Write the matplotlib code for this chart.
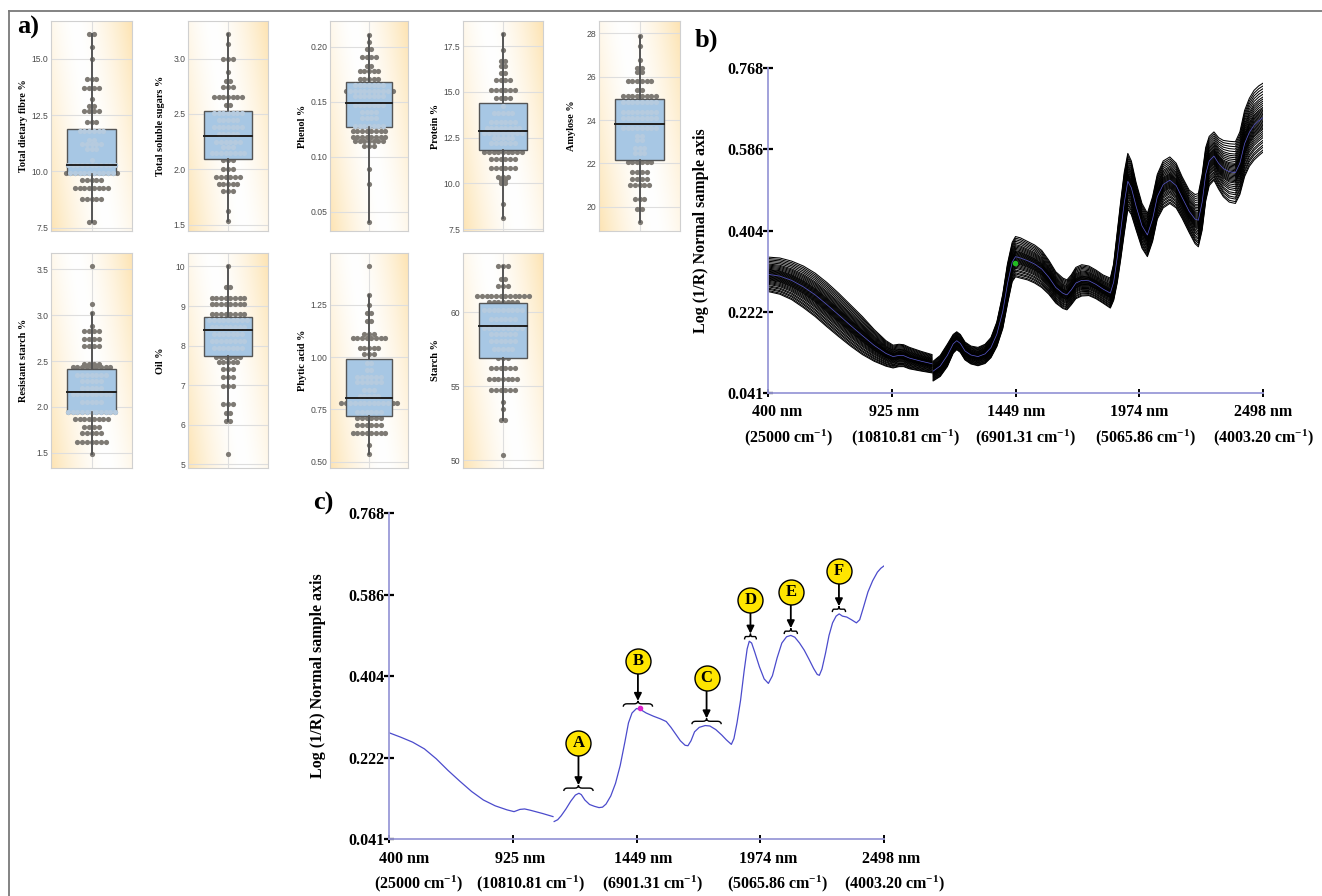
import numpy as np
import matplotlib
matplotlib.use("Agg")
import matplotlib.pyplot as plt
from matplotlib.path import Path
from matplotlib.patches import PathPatch
from matplotlib.lines import Line2D
import matplotlib.transforms as mtransforms

plt.rcParams['mathtext.fontset'] = 'custom'
plt.rcParams['mathtext.rm'] = 'Liberation Serif:bold'
plt.rcParams['mathtext.bf'] = 'Liberation Serif:bold'
plt.rcParams['mathtext.it'] = 'Liberation Serif:bold'
SERIF = 'Liberation Serif'
SANS = 'Liberation Sans'

# ---------------- panel a data (dot levels and counts, box stats) ----------------
tdf_levels = [16.1, 15.5, 15.0, 14.1, 13.7, 13.2, 12.9, 12.7, 12.2, 11.8, 11.4, 11.2, 11.0, 10.5, 10.3, 9.95, 9.6, 9.25, 8.8, 7.75]
tdf_counts = [2, 1, 1, 3, 4, 1, 2, 4, 3, 6, 2, 5, 3, 1, 11, 12, 5, 8, 5, 2]
tdf_box = [7.75, 9.89, 10.29, 11.87, 16.1]

tss_levels = [3.22, 3.13, 3.0, 2.88, 2.80, 2.74, 2.65, 2.58, 2.51, 2.45, 2.38, 2.32, 2.25, 2.20, 2.15, 2.08, 2.0, 1.93, 1.87, 1.80, 1.62, 1.53]
tss_counts = [1, 1, 3, 1, 2, 3, 7, 2, 7, 5, 7, 5, 6, 3, 8, 3, 3, 6, 5, 3, 1, 1]
tss_box = [1.53, 2.09, 2.30, 2.53, 3.22]

phe_levels = [0.211, 0.204, 0.198, 0.191, 0.182, 0.178, 0.171, 0.165, 0.160, 0.155, 0.147, 0.141, 0.135, 0.128, 0.123, 0.118, 0.114, 0.110, 0.089, 0.075, 0.041]
phe_counts = [1, 1, 2, 4, 2, 5, 5, 7, 11, 7, 7, 4, 4, 7, 8, 8, 7, 3, 1, 1, 1]
phe_box = [0.041, 0.127, 0.149, 0.168, 0.211]

pro_levels = [18.18, 17.32, 16.67, 16.42, 16.03, 15.68, 15.13, 14.69, 14.21, 13.85, 13.35, 13.04, 12.75, 12.46, 12.19, 11.74, 11.33, 10.85, 10.36, 10.2, 10.0, 8.9, 8.1]
pro_counts = [1, 1, 2, 2, 2, 4, 6, 4, 1, 5, 6, 8, 9, 5, 6, 9, 6, 6, 3, 2, 2, 1, 1]
pro_box = [8.1, 11.83, 12.84, 14.39, 18.18]

amy_levels = [27.9, 27.4, 26.75, 26.4, 26.2, 25.8, 25.4, 25.1, 24.85, 24.38, 24.08, 23.65, 23.26, 23.08, 22.69, 22.46, 22.06, 21.6, 21.3, 20.98, 20.34, 19.88, 19.3]
amy_counts = [1, 1, 1, 2, 2, 6, 2, 8, 8, 8, 8, 8, 2, 2, 3, 3, 6, 4, 4, 5, 3, 2, 1]
amy_box = [19.3, 22.14, 23.8, 24.98, 27.9]

rs_levels = [3.53, 3.12, 3.02, 2.88, 2.83, 2.74, 2.66, 2.47, 2.43, 2.35, 2.28, 2.21, 2.14, 2.05, 1.95, 1.87, 1.78, 1.72, 1.62, 1.49]
rs_counts = [1, 1, 1, 1, 4, 4, 4, 4, 9, 7, 5, 5, 9, 5, 11, 8, 4, 5, 7, 1]
rs_box = [1.49, 1.94, 2.16, 2.41, 3.02]

oil_levels = [10.0, 9.49, 9.21, 9.05, 8.80, 8.65, 8.46, 8.29, 8.12, 7.93, 7.72, 7.58, 7.41, 7.2, 6.98, 6.53, 6.3, 6.09, 5.26]
oil_counts = [1, 2, 8, 8, 8, 9, 8, 7, 8, 7, 6, 5, 3, 3, 3, 3, 2, 2, 1]
oil_box = [6.09, 7.75, 8.39, 8.73, 10.0]

phy_levels = [1.434, 1.298, 1.247, 1.213, 1.173, 1.111, 1.09, 1.042, 1.015, 0.974, 0.938, 0.907, 0.879, 0.843, 0.814, 0.779, 0.739, 0.707, 0.675, 0.637, 0.58, 0.537]
phy_counts = [1, 1, 1, 2, 2, 3, 8, 5, 3, 2, 2, 6, 6, 3, 5, 13, 6, 6, 6, 8, 1, 1]
phy_box = [0.537, 0.72, 0.806, 0.991, 1.298]

sta_levels = [63.09, 62.26, 61.8, 61.08, 60.68, 60.16, 59.57, 58.96, 58.51, 58.08, 57.52, 56.88, 56.2, 55.5, 54.74, 53.97, 53.45, 52.69, 50.38]
sta_counts = [3, 2, 3, 12, 7, 9, 6, 9, 6, 6, 5, 3, 6, 7, 6, 1, 1, 2, 1]
sta_box = [52.69, 56.9, 59.07, 60.6, 63.09]

a_names = ["Total dietary fibre %", "Total soluble sugars %", "Phenol %", "Protein %", "Amylose %",
           "Resistant starch %", "Oil %", "Phytic acid %", "Starch %"]
a_levels = [tdf_levels, tss_levels, phe_levels, pro_levels, amy_levels, rs_levels, oil_levels, phy_levels, sta_levels]
a_counts = [tdf_counts, tss_counts, phe_counts, pro_counts, amy_counts, rs_counts, oil_counts, phy_counts, sta_counts]
a_boxes = [tdf_box, tss_box, phe_box, pro_box, amy_box, rs_box, oil_box, phy_box, sta_box]
a_ticks = [[7.5, 10.0, 12.5, 15.0], [1.5, 2.0, 2.5, 3.0], [0.05, 0.10, 0.15, 0.20],
           [7.5, 10.0, 12.5, 15.0, 17.5], [20, 22, 24, 26, 28], [1.5, 2.0, 2.5, 3.0, 3.5],
           [5, 6, 7, 8, 9, 10], [0.50, 0.75, 1.00, 1.25], [50, 55, 60]]
a_ticklabels = [["7.5", "10.0", "12.5", "15.0"], ["1.5", "2.0", "2.5", "3.0"], ["0.05", "0.10", "0.15", "0.20"],
                ["7.5", "10.0", "12.5", "15.0", "17.5"], ["20", "22", "24", "26", "28"],
                ["1.5", "2.0", "2.5", "3.0", "3.5"], ["5", "6", "7", "8", "9", "10"],
                ["0.50", "0.75", "1.00", "1.25"], ["50", "55", "60"]]
a_ylims = [(7.36, 16.67), (1.443, 3.34), (0.0324, 0.2233), (7.4, 18.88), (18.88, 28.57),
           (1.336, 3.675), (4.91, 10.34), (0.470, 1.498), (49.48, 64.0)]

# ---------------- spectra data ----------------
x_ticks_nm = [400, 925, 1449, 1974, 2498]
x_line1 = ["400 nm", "925 nm", "1449 nm", "1974 nm", "2498 nm"]
x_line2 = [r"(25000 cm$^{-1}$)", r"(10810.81 cm$^{-1}$)", r"(6901.31 cm$^{-1}$)",
           r"(5065.86 cm$^{-1}$)", r"(4003.20 cm$^{-1}$)"]
y_ticks = [0.041, 0.222, 0.404, 0.586, 0.768]
y_ticklabels = ["0.041", "0.222", "0.404", "0.586", "0.768"]

# panel b: upper / lower envelope of the sample spectra (two detector segments)
b_nm1 = [400, 450, 500, 550, 600, 650, 700, 750, 800, 850, 900, 930, 955, 975, 1000, 1050, 1095]
b_hi1 = [0.345, 0.343, 0.336, 0.325, 0.309, 0.288, 0.264, 0.238, 0.212, 0.183, 0.158, 0.148, 0.150,
         0.149, 0.143, 0.134, 0.127]
b_lo1 = [0.268, 0.262, 0.250, 0.232, 0.212, 0.189, 0.167, 0.146, 0.127, 0.112, 0.101, 0.097, 0.100,
         0.100, 0.095, 0.090, 0.086]
b_nm2 = [1100, 1130, 1160, 1185, 1200, 1215, 1235, 1260, 1290, 1320, 1345, 1370, 1395, 1415, 1435, 1449,
         1470, 1500, 1530, 1560, 1590, 1620, 1650, 1667, 1685, 1705, 1730, 1760, 1790, 1820, 1851, 1865,
         1880, 1895, 1910, 1925, 1940, 1960, 1985, 2008, 2030, 2050, 2075, 2103, 2130, 2155, 2185, 2210,
         2224, 2240, 2255, 2270, 2290, 2310, 2330, 2355, 2381, 2400, 2420, 2440, 2460, 2480, 2498]
b_hi2 = [0.112, 0.125, 0.150, 0.172, 0.178, 0.172, 0.155, 0.146, 0.143, 0.150, 0.165, 0.200, 0.262,
         0.330, 0.378, 0.391, 0.388, 0.380, 0.372, 0.360, 0.338, 0.312, 0.298, 0.294, 0.305, 0.322,
         0.328, 0.325, 0.316, 0.305, 0.298, 0.330, 0.400, 0.470, 0.535, 0.577, 0.560, 0.512, 0.465,
         0.443, 0.480, 0.530, 0.560, 0.569, 0.555, 0.525, 0.495, 0.485, 0.487, 0.530, 0.590, 0.615,
         0.625, 0.612, 0.606, 0.604, 0.603, 0.625, 0.673, 0.700, 0.718, 0.728, 0.734]
b_lo2 = [0.068, 0.078, 0.100, 0.130, 0.138, 0.132, 0.115, 0.106, 0.102, 0.107, 0.120, 0.145, 0.185,
         0.240, 0.290, 0.301, 0.298, 0.294, 0.287, 0.277, 0.262, 0.242, 0.230, 0.227, 0.238, 0.252,
         0.258, 0.259, 0.252, 0.242, 0.231, 0.248, 0.287, 0.340, 0.398, 0.452, 0.440, 0.406, 0.365,
         0.346, 0.380, 0.430, 0.455, 0.465, 0.455, 0.432, 0.400, 0.375, 0.368, 0.405, 0.470, 0.505,
         0.517, 0.497, 0.480, 0.468, 0.465, 0.485, 0.525, 0.548, 0.562, 0.572, 0.580]
b_sample_pos = [0.0, 0.03, 0.07, 0.10, 0.14, 0.17, 0.21, 0.24, 0.27, 0.30, 0.33, 0.35, 0.37, 0.39, 0.41,
                0.43, 0.45, 0.47, 0.49, 0.51, 0.53, 0.55, 0.57, 0.59, 0.61, 0.63, 0.65, 0.68, 0.71, 0.74,
                0.77, 0.80, 0.84, 0.88, 0.92, 0.96, 1.0]

# panel c: single spectrum
c_nm1 = [400, 450, 500, 550, 600, 650, 700, 750, 800, 850, 900, 930, 955, 975, 1000, 1050, 1095]
c_val1 = [0.278, 0.268, 0.257, 0.242, 0.220, 0.194, 0.170, 0.147, 0.128, 0.115, 0.106, 0.102, 0.107,
          0.108, 0.105, 0.098, 0.091]
c_nm2 = [1100, 1115, 1130, 1150, 1170, 1190, 1205, 1215, 1230, 1250, 1270, 1290, 1305, 1320, 1340, 1360,
         1380, 1400, 1415, 1430, 1449, 1465, 1490, 1520, 1550, 1575, 1595, 1615, 1635, 1655, 1667, 1680,
         1695, 1715, 1740, 1760, 1785, 1810, 1830, 1851, 1862, 1875, 1890, 1905, 1918, 1927, 1937, 1950,
         1970, 1990, 2008, 2025, 2045, 2065, 2085, 2103, 2120, 2140, 2160, 2180, 2200, 2215, 2224, 2235,
         2250, 2265, 2280, 2295, 2308, 2322, 2340, 2360, 2381, 2395, 2410, 2430, 2450, 2470, 2485, 2498]
c_val2 = [0.080, 0.084, 0.093, 0.108, 0.125, 0.139, 0.143, 0.140, 0.128, 0.118, 0.114, 0.111, 0.112,
          0.119, 0.137, 0.165, 0.205, 0.258, 0.300, 0.322, 0.332, 0.330, 0.322, 0.315, 0.309, 0.303,
          0.290, 0.275, 0.260, 0.250, 0.249, 0.260, 0.280, 0.290, 0.294, 0.293, 0.285, 0.273, 0.262,
          0.252, 0.265, 0.300, 0.350, 0.415, 0.465, 0.482, 0.478, 0.458, 0.425, 0.398, 0.388, 0.405,
          0.445, 0.478, 0.492, 0.495, 0.491, 0.478, 0.462, 0.442, 0.421, 0.408, 0.406, 0.420, 0.455,
          0.495, 0.523, 0.538, 0.543, 0.538, 0.536, 0.530, 0.523, 0.530, 0.556, 0.592, 0.617, 0.636,
          0.645, 0.650]

# peak annotations in panel c
peak_labels = ["A", "B", "C", "D", "E", "F"]
peak_nm = [1203, 1455, 1746, 1932, 2103, 2307]
peak_circle_y = [0.256, 0.438, 0.399, 0.575, 0.592, 0.638]
peak_brace_y = [0.148, 0.336, 0.297, 0.486, 0.498, 0.547]
peak_brace_hw = [62, 62, 62, 25, 28, 28]

# ---------------- figure ----------------
W, H = 1322, 896
fig = plt.figure(figsize=(W / 100, H / 100), dpi=100)


def px_axes(x0, x1, y0, y1):
    return fig.add_axes([x0 / W, 1 - y1 / H, (x1 - x0) / W, (y1 - y0) / H])


# frame
fig.add_artist(Line2D([9 / W, 1.0], [1 - 11 / H, 1 - 11 / H], transform=fig.transFigure, color='#7a7a7a', lw=1.3))
fig.add_artist(Line2D([9 / W, 9 / W], [1 - 11 / H, 0.0], transform=fig.transFigure, color='#7a7a7a', lw=1.3))

# background gradient image
gx = np.linspace(0, 1, 60)
gy = np.linspace(1, 0, 160)
GX, GY = np.meshgrid(gx, gy)
u = (GX - 0.5) + 0.4 * (GY - 0.5)
f = np.clip(np.abs(u) / 0.7, 0, 1) ** 1.6
orange = np.array([253, 228, 180]) / 255.0
grad = np.ones((160, 60, 3)) * (1 - f[..., None]) + orange * f[..., None]

cols = [(51, 132), (188, 268), (330, 408), (463, 543), (599, 680)]
rows = [(21, 231), (253, 468)]
slots = [(0, 0), (0, 1), (0, 2), (0, 3), (0, 4), (1, 0), (1, 1), (1, 2), (1, 3)]

for i, (r, c) in enumerate(slots):
    x0, x1 = cols[c]
    y0, y1 = rows[r]
    ax = px_axes(x0, x1, y0, y1)
    lo, hi = a_ylims[i]
    ax.set_xlim(-0.5, 0.5)
    ax.set_ylim(lo, hi)
    ax.imshow(grad, extent=(-0.5, 0.5, lo, hi), aspect='auto', zorder=0, interpolation='bilinear')
    for t in a_ticks[i]:
        ax.axhline(t, color='#dedede', lw=0.8, zorder=0.5)
    ax.axvline(0, color='#dedede', lw=0.8, zorder=0.5)
    spacing = 4.7 / (x1 - x0)
    xs, ys = [], []
    for lev, n in zip(a_levels[i], a_counts[i]):
        for k in range(n):
            xs.append((k - (n - 1) / 2) * spacing)
            ys.append(lev)
    xs = np.array(xs)
    ys = np.array(ys)
    ax.scatter(xs, ys, s=14, color='#7e7a74', linewidths=0, zorder=2)
    wl, q1, med, q3, wh = a_boxes[i]
    ax.bxp([{'whislo': wl, 'q1': q1, 'med': med, 'q3': q3, 'whishi': wh, 'fliers': []}],
           positions=[0], widths=0.6, patch_artist=True, showcaps=False, showfliers=False,
           boxprops=dict(facecolor='#a7c7e4', edgecolor='#555555', lw=1.0),
           whiskerprops=dict(color='#555555', lw=1.2),
           medianprops=dict(color='#222222', lw=1.4), zorder=3)
    inside = (ys >= q1) & (ys <= q3) & (np.abs(xs) <= 0.3)
    ax.scatter(xs[inside], ys[inside], s=14, color='#b6cbdf', linewidths=0, zorder=3.5)
    ax.plot([0, 0], [wl, q1], color='#555555', lw=1.2, zorder=3.6)
    ax.plot([0, 0], [q3, wh], color='#555555', lw=1.2, zorder=3.6)
    ax.plot([-0.3, 0.3], [med, med], color='#222222', lw=1.4, zorder=4)
    ax.set_yticks(a_ticks[i])
    ax.set_yticklabels(a_ticklabels[i], fontfamily=SANS, fontsize=6.2, color='#4a4a4a')
    ax.set_xticks([])
    ax.tick_params(axis='y', length=0, pad=2)
    for s in ax.spines.values():
        s.set_color('#d0d0d0')
        s.set_linewidth(0.8)
    ax.set_ylabel(a_names[i], fontfamily=SERIF, fontweight='bold', fontsize=7.4)
    ax.yaxis.set_label_coords(-23 / (x1 - x0), 0.5)

fig.text(17 / W, 1 - 16 / H, "a)", fontfamily=SERIF, fontweight='bold', fontsize=19, va='top', ha='left')
fig.text(695 / W, 1 - 29 / H, "b)", fontfamily=SERIF, fontweight='bold', fontsize=19, va='top', ha='left')
fig.text(313 / W, 1 - 492 / H, "c)", fontfamily=SERIF, fontweight='bold', fontsize=19, va='top', ha='left')


def spec_axes(x0, x1, y0, y1, off1, off2, lab_x):
    ax = px_axes(x0, x1, y0, y1)
    ax.set_xlim(400, 2498)
    ax.set_ylim(0.041, 0.768)
    for s in ['top', 'right']:
        ax.spines[s].set_visible(False)
    for s in ['left', 'bottom']:
        ax.spines[s].set_color('#9a9ad8')
        ax.spines[s].set_linewidth(1.3)
    ax.set_yticks(y_ticks)
    ax.set_yticklabels(y_ticklabels, fontfamily=SERIF, fontweight='bold', fontsize=11.5)
    ax.set_xticks(x_ticks_nm)
    ax.set_xticklabels([])
    ax.tick_params(axis='x', direction='inout', length=6, width=1.4, color='black')
    ax.tick_params(axis='y', direction='inout', length=7, width=1.6, color='black', pad=0)
    h = y1 - y0
    for k, xv in enumerate(x_ticks_nm):
        tr1 = mtransforms.offset_copy(ax.get_xaxis_transform(), fig=fig, x=off1[k] * 0.72, y=0, units='points')
        tr2 = mtransforms.offset_copy(ax.get_xaxis_transform(), fig=fig, x=off2[k] * 0.72, y=0, units='points')
        ax.text(xv, -19.5 / h, x_line1[k], transform=tr1, ha='center', va='center',
                fontfamily=SERIF, fontweight='bold', fontsize=11.5, clip_on=False)
        ax.text(xv, -45 / h, x_line2[k], transform=tr2, ha='center', va='center',
                fontfamily=SERIF, fontweight='bold', fontsize=11.5, clip_on=False)
    ax.set_ylabel("Log (1/R) Normal sample axis", fontfamily=SERIF, fontweight='bold', fontsize=11.5)
    ax.yaxis.set_label_coords(lab_x / (x1 - x0), 0.5)
    return ax


# panel b
axb = spec_axes(768, 1263, 68, 393, [9, 2, 1, 0, 0], [20, 14, 10, 6, 0], -59)
lo1, hi1 = np.array(b_lo1), np.array(b_hi1)
lo2, hi2 = np.array(b_lo2), np.array(b_hi2)
for w in b_sample_pos:
    axb.plot(b_nm1, lo1 + w * (hi1 - lo1), color='black', lw=0.75, zorder=2, solid_joinstyle='round')
    axb.plot(b_nm2, lo2 + w * (hi2 - lo2), color='black', lw=0.75, zorder=2, solid_joinstyle='round')
axb.plot(b_nm1, (lo1 + hi1) / 2, color='#5a5ad0', lw=0.5, zorder=2.5)
axb.plot(b_nm2, (lo2 + hi2) / 2, color='#5a5ad0', lw=0.5, zorder=2.5)
axb.plot([1445], [0.331], 'o', color='#22bb22', ms=3, zorder=3)

# panel c
axc = spec_axes(389, 884, 513, 839, [15, 7, 7, 8, 7], [29, 18, 16, 17, 10], -63)
axc.plot(c_nm1, c_val1, color='#4b4bcc', lw=0.9, zorder=2)
axc.plot(c_nm2, c_val2, color='#4b4bcc', lw=0.9, zorder=2)
axc.plot([1463], [0.333], 'o', color='#dd22cc', ms=3, zorder=3)

bh = 0.013
circ_r = 0.028
for lab, xc, yc, yb, hw in zip(peak_labels, peak_nm, peak_circle_y, peak_brace_y, peak_brace_hw):
    verts = [(xc - hw, yb), (xc - hw, yb + 0.5 * bh), (xc - 0.75 * hw, yb + 0.5 * bh),
             (xc - 0.25 * hw, yb + 0.5 * bh),
             (xc, yb + 0.5 * bh), (xc, yb + bh),
             (xc, yb + 0.5 * bh), (xc + 0.25 * hw, yb + 0.5 * bh),
             (xc + 0.75 * hw, yb + 0.5 * bh),
             (xc + hw, yb + 0.5 * bh), (xc + hw, yb)]
    codes = [Path.MOVETO, Path.CURVE3, Path.CURVE3, Path.LINETO, Path.CURVE3, Path.CURVE3,
             Path.CURVE3, Path.CURVE3, Path.LINETO, Path.CURVE3, Path.CURVE3]
    axc.add_patch(PathPatch(Path(verts, codes), facecolor='none', edgecolor='black', lw=1.0, zorder=3))
    axc.annotate("", xy=(xc, yb + bh), xytext=(xc, yc - circ_r),
                 arrowprops=dict(arrowstyle='-|>', color='black', lw=1.3, mutation_scale=11,
                                 shrinkA=0, shrinkB=0), zorder=3)
    axc.plot([xc], [yc], 'o', ms=18, markerfacecolor='#ffe500', markeredgecolor='black', mew=1.0, zorder=4)
    axc.text(xc, yc, lab, ha='center', va='center', fontfamily=SERIF, fontweight='bold', fontsize=12, zorder=5)

fig.savefig("out.png", dpi=100)
